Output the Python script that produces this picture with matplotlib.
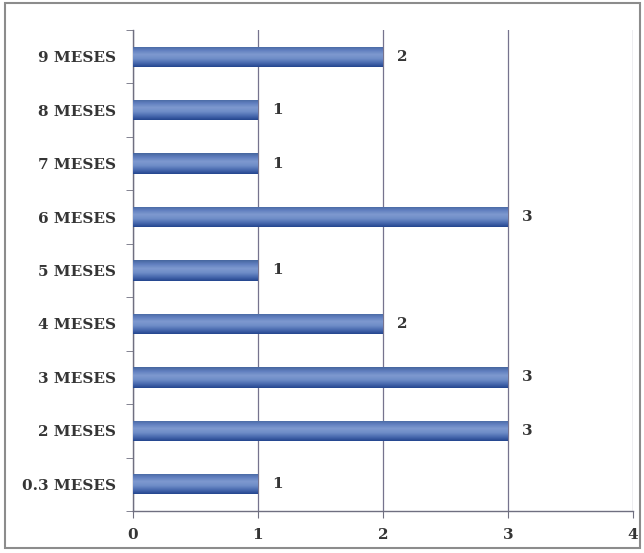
import numpy as np
import matplotlib
matplotlib.use("Agg")
import matplotlib.pyplot as plt
from matplotlib.colors import LinearSegmentedColormap
from matplotlib.patches import Rectangle

categories = ["0.3 MESES", "2 MESES", "3 MESES", "4 MESES", "5 MESES",
              "6 MESES", "7 MESES", "8 MESES", "9 MESES"]
values = [1, 3, 3, 2, 1, 3, 1, 1, 2]
x_ticks = [0, 1, 2, 3, 4]

plt.rcParams["font.family"] = ["DejaVu Serif"]
TXT = dict(fontsize=11, fontweight="semibold", color="#353535")

fig = plt.figure(figsize=(6.44, 5.53), dpi=100)
ax = fig.add_axes([133 / 644, 1 - 511 / 553, 500 / 644, 481 / 553])

y = np.arange(len(categories))
bar_h = 0.38
bars = ax.barh(y, values, height=bar_h, color="#4a6aae", zorder=3)

# vertical shading on each bar: dark lower rim, lighter middle
shade = LinearSegmentedColormap.from_list(
    "bar", ["#24468f", "#4a6bb0", "#6f8dc8", "#7e99cf", "#6280c0", "#46669f"])
grad = np.linspace(0, 1, 64).reshape(-1, 1)
for b in bars:
    x0, y0 = b.get_x(), b.get_y()
    im = ax.imshow(grad, cmap=shade, aspect="auto", zorder=4,
                   extent=[x0, x0 + b.get_width(), y0, y0 + b.get_height()],
                   origin="lower")
    im.set_clip_path(b)

for yi, v in zip(y, values):
    ax.text(v + 0.11, yi, str(v), va="center", ha="left", zorder=5, **TXT)

ax.set_xlim(0, 4)
ax.set_ylim(-0.5, len(categories) - 0.5)
ax.set_xticks(x_ticks)
ax.set_xticklabels([str(t) for t in x_ticks], **TXT)
ax.set_yticks(y)
ax.set_yticklabels(categories, **TXT)
ax.set_yticks(np.arange(-0.5, len(categories)), minor=True)
ax.tick_params(axis="y", which="major", length=0, pad=12)
ax.tick_params(axis="y", which="minor", length=5, color="#6f6f80")
ax.tick_params(axis="x", length=5, color="#6f6f80", pad=7)

ax.grid(axis="x", color="#76738e", linewidth=0.9, zorder=1)
for s in ["top", "right"]:
    ax.spines[s].set_visible(False)
for s in ["left", "bottom"]:
    ax.spines[s].set_color("#6f6f80")
    ax.spines[s].set_linewidth(1.0)

# outer frame around the chart
fig.patches.append(Rectangle((5 / 644, 1 - 548 / 553), 635 / 644, 545 / 553,
                             transform=fig.transFigure, fill=False,
                             edgecolor="#8c8c8c", linewidth=1.5))

fig.savefig("out.png", dpi=100)
